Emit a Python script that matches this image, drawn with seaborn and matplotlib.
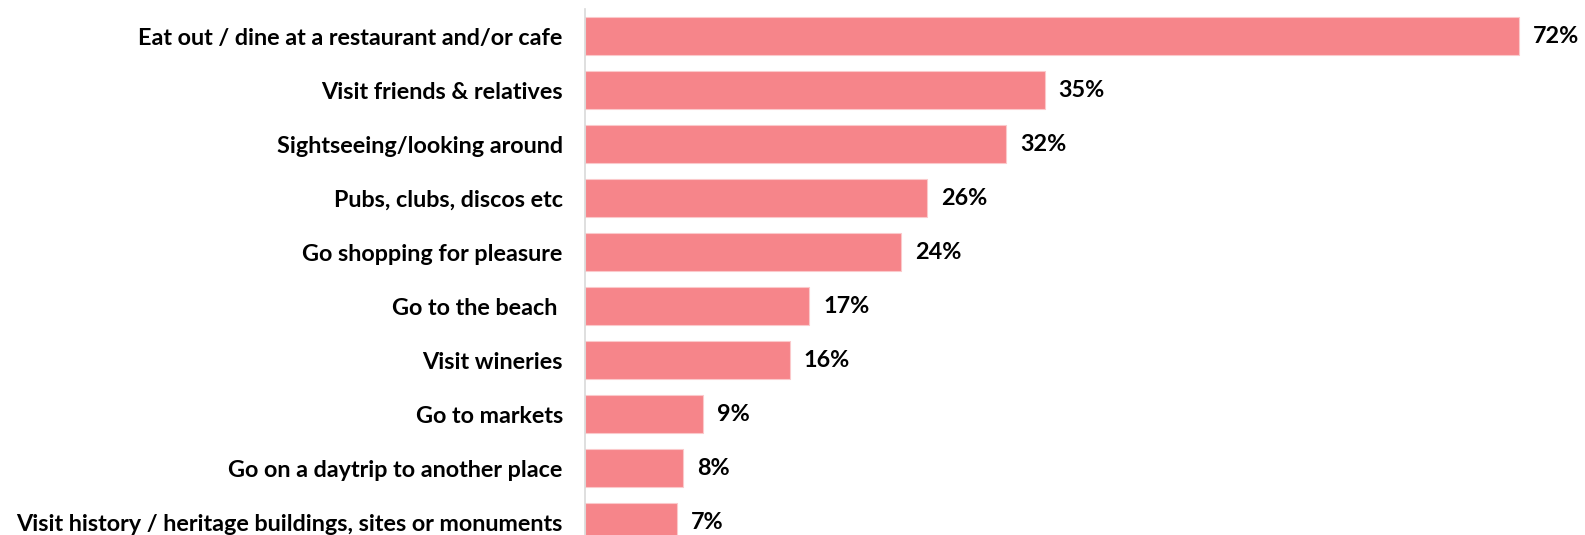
import matplotlib
matplotlib.use("Agg")
import matplotlib.pyplot as plt
import seaborn as sns
import pandas as pd

# =========================
# DATA
# =========================

activities = [
    "Eat out / dine at a restaurant and/or cafe",
    "Visit friends & relatives",
    "Sightseeing/looking around",
    "Pubs, clubs, discos etc",
    "Go shopping for pleasure",
    "Go to the beach ",
    "Visit wineries",
    "Go to markets",
    "Go on a daytrip to another place",
    "Visit history / heritage buildings, sites or monuments",
]
shares = [72.1, 35.5, 32.5, 26.4, 24.4, 17.3, 15.8, 9.1, 7.6, 7.1]
share_labels = ["72%", "35%", "32%", "26%", "24%", "17%", "16%", "9%", "8%", "7%"]

BAR_COLOR = "#F6858A"

# =========================
# PLOT
# =========================

def main():
    sns.set_style("white")
    plt.rcParams["font.family"] = ["Lato", "DejaVu Sans"]

    df = pd.DataFrame({"activity": activities, "share": shares})

    fig = plt.figure(figsize=(15.85, 5.35), dpi=100)
    ax = fig.add_axes([585 / 1585, 0.0, 1 - 585 / 1585, 1 - 9 / 535])

    sns.barplot(data=df, x="share", y="activity", color=BAR_COLOR,
                width=0.70, saturation=1, edgecolor="#FBC9CB", linewidth=0.8, ax=ax)

    ax.set_xlim(0, 77.2)
    ax.set_ylim(9.24, -0.5)

    for i, (v, lab) in enumerate(zip(shares, share_labels)):
        ax.annotate(lab, xy=(v, i), xytext=(10, 0), textcoords="offset points",
                    ha="left", va="center", fontsize=16.8, fontweight="bold", color="black")

    ax.set_xlabel("")
    ax.set_ylabel("")
    ax.set_xticks([])
    ax.tick_params(axis="y", length=0, pad=16, labelsize=16.8, labelcolor="black")
    for t in ax.get_yticklabels():
        t.set_fontweight("bold")

    for s in ["top", "right", "bottom"]:
        ax.spines[s].set_visible(False)
    ax.spines["left"].set_color("#D9D9D9")
    ax.spines["left"].set_linewidth(1.2)

    fig.savefig("out.png", dpi=100)


if __name__ == "__main__":
    main()
